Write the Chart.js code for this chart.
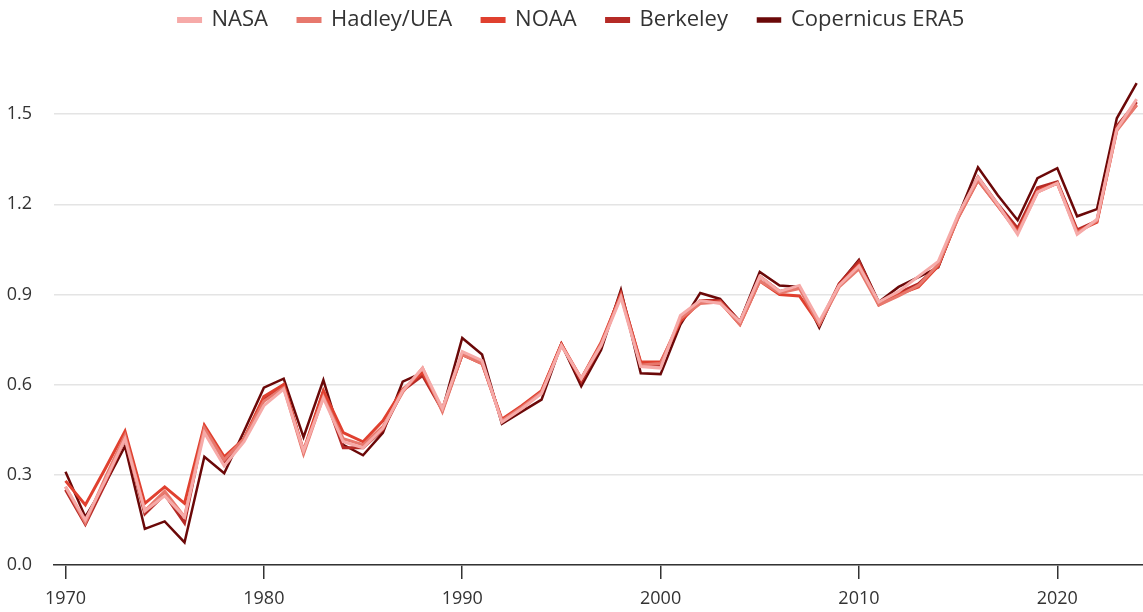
<!DOCTYPE html>
<html>
<head>
<meta charset="utf-8">
<script src="https://cdn.jsdelivr.net/npm/chart.js@4/dist/chart.umd.min.js"></script>
<style>
  html, body { margin: 0; padding: 0; background: #fff; }
  #wrap { width: 1143px; height: 612px; }
</style>
</head>
<body>
<div id="wrap"><canvas id="chart"></canvas></div>
<script>
const YEARS = [];
for (let y = 1970; y <= 2024; y++) YEARS.push(y);

const Y_TICKS = [0, 0.3, 0.6, 0.9, 1.2, 1.5];

// global temperature anomaly, °C
const NASA = [0.26, 0.15, 0.28, 0.42, 0.18, 0.23, 0.16, 0.44, 0.33, 0.41,
  0.53, 0.585, 0.38, 0.555, 0.41, 0.39, 0.455, 0.58, 0.655, 0.52,
  0.71, 0.68, 0.475, 0.52, 0.57, 0.73, 0.62, 0.73, 0.89, 0.66,
  0.655, 0.83, 0.88, 0.87, 0.81, 0.96, 0.91, 0.93, 0.81, 0.93,
  0.995, 0.875, 0.91, 0.96, 1.01, 1.165, 1.29, 1.2, 1.1, 1.24,
  1.27, 1.1, 1.15, 1.45, 1.55];
const HADLEY = [0.26, 0.14, 0.29, 0.43, 0.18, 0.245, 0.16, 0.455, 0.35, 0.42,
  0.545, 0.59, 0.37, 0.56, 0.42, 0.4, 0.46, 0.575, 0.655, 0.51,
  0.7, 0.67, 0.48, 0.525, 0.575, 0.73, 0.62, 0.735, 0.895, 0.665,
  0.67, 0.82, 0.87, 0.875, 0.8, 0.945, 0.905, 0.92, 0.8, 0.925,
  0.985, 0.865, 0.895, 0.93, 1.0, 1.155, 1.28, 1.195, 1.105, 1.24,
  1.27, 1.105, 1.145, 1.445, 1.53];
const NOAA = [0.28, 0.2, 0.32, 0.445, 0.205, 0.26, 0.205, 0.465, 0.36, 0.42,
  0.56, 0.6, 0.38, 0.58, 0.44, 0.41, 0.48, 0.585, 0.64, 0.52,
  0.7, 0.67, 0.485, 0.53, 0.58, 0.735, 0.62, 0.74, 0.9, 0.675,
  0.675, 0.81, 0.875, 0.875, 0.8, 0.945, 0.9, 0.895, 0.8, 0.93,
  1.0, 0.865, 0.9, 0.925, 0.995, 1.155, 1.28, 1.195, 1.11, 1.245,
  1.27, 1.11, 1.14, 1.45, 1.53];
const BERKELEY = [0.25, 0.135, 0.27, 0.42, 0.17, 0.235, 0.14, 0.46, 0.34, 0.42,
  0.55, 0.6, 0.375, 0.575, 0.39, 0.39, 0.45, 0.58, 0.63, 0.515,
  0.7, 0.675, 0.48, 0.52, 0.575, 0.735, 0.61, 0.73, 0.905, 0.67,
  0.665, 0.815, 0.88, 0.88, 0.81, 0.96, 0.91, 0.925, 0.8, 0.935,
  1.01, 0.87, 0.905, 0.935, 0.995, 1.16, 1.29, 1.2, 1.12, 1.255,
  1.275, 1.115, 1.145, 1.46, 1.54];
const ERA5 = [0.31, 0.16, 0.27, 0.395, 0.12, 0.145, 0.075, 0.36, 0.305, 0.445,
  0.59, 0.62, 0.425, 0.615, 0.4, 0.365, 0.44, 0.61, 0.64, 0.515,
  0.755, 0.7, 0.47, 0.51, 0.55, 0.735, 0.595, 0.715, 0.915, 0.638,
  0.635, 0.8, 0.905, 0.885, 0.81, 0.975, 0.93, 0.925, 0.79, 0.935,
  1.015, 0.875, 0.925, 0.958, 0.99, 1.16, 1.323, 1.23, 1.147, 1.287,
  1.32, 1.16, 1.184, 1.486, 1.603];

const SERIES = [
  { label: "NASA", values: NASA, color: "#f6aaa8", width: 3 },
  { label: "Hadley/UEA", values: HADLEY, color: "#e7786d", width: 3 },
  { label: "NOAA", values: NOAA, color: "#e0402f", width: 3 },
  { label: "Berkeley", values: BERKELEY, color: "#b52a26", width: 3 },
  { label: "Copernicus ERA5", values: ERA5, color: "#6b0808", width: 2.5 },
];

const FONT = "'Open Sans', 'DejaVu Sans', sans-serif";
const TEXT = "#333333";
const PLOT_TOP = 69;
const LEGEND_SHIFT = 21;

function toPoints(values) {
  return YEARS.map((year, i) => ({ x: year, y: values[i] }));
}

// legend sits higher than chart.js would put it; pin its box so the plot
// area starts at PLOT_TOP
const legendBox = {
  id: "legendBox",
  afterInit(chart) {
    const fit = chart.legend.fit;
    chart.legend.fit = function () {
      fit.call(this);
      this.height = PLOT_TOP + LEGEND_SHIFT;
    };
  },
};

new Chart(document.getElementById("chart"), {
  type: "line",
  data: {
    datasets: SERIES.map((s) => ({
      label: s.label,
      data: toPoints(s.values),
      borderColor: s.color,
      backgroundColor: s.color,
      borderWidth: s.width,
      pointRadius: 0,
      tension: 0,
      fill: false,
      clip: false,
    })),
  },
  plugins: [legendBox],
  options: {
    responsive: true,
    maintainAspectRatio: false,
    animation: false,
    layout: { padding: { top: -LEGEND_SHIFT, right: 0, left: 0, bottom: 0 } },
    plugins: {
      tooltip: { enabled: false },
      legend: {
        position: "top",
        labels: {
          boxWidth: 22,
          boxHeight: 3,
          padding: 30,
          color: TEXT,
          font: { family: FONT, size: 22 },
        },
      },
    },
    scales: {
      x: {
        type: "linear",
        min: 1969.42,
        max: 2024.32,
        afterFit: (s) => { s.height = 47; },
        ticks: {
          stepSize: 10,
          includeBounds: false,
          padding: 9,
          color: TEXT,
          font: { family: FONT, size: 18 },
          callback: (v) => String(v),
          maxRotation: 0,
        },
        grid: { drawOnChartArea: false, drawTicks: true, tickLength: 14, color: TEXT, lineWidth: 1.5 },
        border: { color: TEXT, width: 1.5 },
      },
      y: {
        min: 0,
        max: 1.65,
        afterFit: (s) => { s.width = 54; },
        afterBuildTicks: (s) => { s.ticks = Y_TICKS.map((v) => ({ value: v })); },
        ticks: {
          padding: 22,
          color: TEXT,
          font: { family: FONT, size: 18 },
          callback: (v) => v.toFixed(1),
        },
        grid: { drawTicks: false, color: "#e4e4e4", lineWidth: 1.5 },
        border: { display: false },
      },
    },
  },
});
</script>
</body>
</html>
